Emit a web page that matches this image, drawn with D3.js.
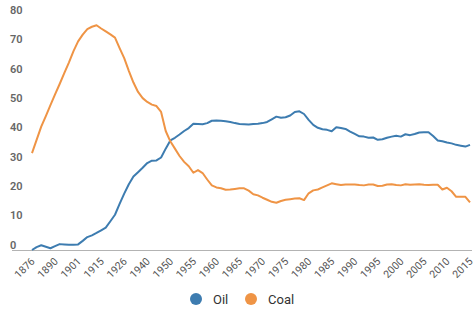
<!DOCTYPE html>
<html>
<head>
<meta charset="utf-8">
<script src="https://cdn.jsdelivr.net/npm/d3@7"></script>
<style>
  body { margin: 0; background: #fff; }
  svg { font-family: Roboto, "Noto Sans", sans-serif; }
</style>
</head>
<body>
<div id="chart"></div>
<script>
// categories (uneven before 1950, yearly after)
const years = [
  1876, 1879, 1882, 1885, 1888, 1890, 1892, 1895, 1897, 1899,
  1901, 1904, 1907, 1909, 1912, 1915, 1917, 1919, 1921, 1923,
  1926, 1929, 1932, 1934, 1937, 1940, 1942, 1944, 1946, 1948,
  1950, 1951, 1952, 1953, 1954, 1955, 1956, 1957, 1958, 1959,
  1960, 1961, 1962, 1963, 1964, 1965, 1966, 1967, 1968, 1969,
  1970, 1971, 1972, 1973, 1974, 1975, 1976, 1977, 1978, 1979,
  1980, 1981, 1982, 1983, 1984, 1985, 1986, 1987, 1988, 1989,
  1990, 1991, 1992, 1993, 1994, 1995, 1996, 1997, 1998, 1999,
  2000, 2001, 2002, 2003, 2004, 2005, 2006, 2007, 2008, 2009,
  2010, 2011, 2012, 2013, 2014, 2015
];

const oil = [
  0, 1, 1.6, 1.1, 0.6, 1.3, 2, 1.9, 1.8, 1.8,
  1.9, 3.1, 4.4, 5, 5.8, 6.7, 7.6, 9.8, 12, 15.7,
  19.2, 22.4, 25, 26.5, 28, 29.6, 30.4, 30.5, 31.5, 34.5,
  37.3, 38.2, 39.3, 40.5, 41.5, 43, 42.9, 42.8, 43.2, 44,
  44.1, 44, 43.8, 43.6, 43.2, 42.9, 42.8, 42.7, 42.9, 43,
  43.2, 43.6, 44.5, 45.4, 45, 45.2, 45.8, 47, 47.2, 46.3,
  44.3, 42.6, 41.6, 41.1, 40.9, 40.4, 41.8, 41.5, 41.2, 40.3,
  39.5, 38.7, 38.6, 38.2, 38.3, 37.5, 37.7, 38.2, 38.6, 38.9,
  38.6, 39.4, 39.1, 39.5, 40, 40.1, 40.1, 38.8, 37.3, 37,
  36.6, 36.3, 35.8, 35.5, 35.2, 35.8
];

const coal = [
  33, 37.5, 42, 45.6, 49.3, 53, 56.5, 60.2, 63.8, 67.7,
  71, 73.3, 75.2, 76, 76.5, 75.4, 74.4, 73.4, 72.3, 68.7,
  65.3, 61, 57, 53.8, 51.7, 50.4, 49.5, 49, 47, 40.5,
  37, 34.5, 32, 30, 28.5, 26.3, 27.2, 26.2, 24, 22,
  21.3, 21, 20.5, 20.6, 20.8, 21, 21, 20.2, 19, 18.6,
  17.8, 17.1, 16.4, 16.1, 16.7, 17.1, 17.3, 17.5, 17.6, 17,
  19.3, 20.3, 20.6, 21.3, 22, 22.7, 22.4, 22.1, 22.3, 22.3,
  22.3, 22.1, 22, 22.3, 22.3, 21.8, 21.9, 22.3, 22.4, 22.1,
  22, 22.4, 22.2, 22.3, 22.4, 22.2, 22.1, 22.2, 22.2, 20.6,
  21.2, 20, 18.1, 18.1, 18.1, 16.2
];

const yTicks = [0, 10, 20, 30, 40, 50, 60, 70, 80];
const xTickLabels = years.filter((d, i) => i % 5 === 0);

const series = [
  { name: 'Oil', values: oil, color: '#3d7cb0' },
  { name: 'Coal', values: coal, color: '#ef9445' }
];

const width = 475;
const height = 311;

const svg = d3.select('#chart').append('svg')
  .attr('width', width)
  .attr('height', height);

const x = d3.scalePoint().domain(years).range([32, 470]);
const y = d3.scaleLinear().domain([0, 80]).range([250, 15]);

// y labels (no axis line, no grid)
svg.append('g').attr('class', 'y-labels')
  .selectAll('text')
  .data(yTicks)
  .enter()
  .append('text')
  .attr('x', 10)
  .attr('y', d => y(d) - 5)
  .attr('dy', '0.35em')
  .attr('fill', '#666')
  .attr('font-size', 11)
  .attr('font-weight', 600)
  .text(d => d);

// x axis
svg.append('line')
  .attr('x1', 12).attr('x2', 472)
  .attr('y1', 250.5).attr('y2', 250.5)
  .attr('stroke', '#b3b3b3')
  .attr('stroke-width', 1);

svg.append('g').attr('class', 'x-labels')
  .selectAll('text')
  .data(xTickLabels)
  .enter()
  .append('text')
  .attr('transform', d => `translate(${x(d) + 3.5},262) rotate(-45)`)
  .attr('text-anchor', 'end')
  .attr('fill', '#555')
  .attr('font-size', 10.5)
  .text(d => d);

// lines
const line = d3.line()
  .x((d, i) => x(years[i]))
  .y(d => y(d));

svg.append('g').attr('class', 'lines')
  .selectAll('path')
  .data(series)
  .enter()
  .append('path')
  .attr('d', d => line(d.values))
  .attr('fill', 'none')
  .attr('stroke', d => d.color)
  .attr('stroke-width', 2)
  .attr('stroke-linejoin', 'round');

// legend
const legendPos = [196, 251];
const legend = svg.append('g').attr('class', 'legend')
  .selectAll('g')
  .data(series)
  .enter()
  .append('g')
  .attr('transform', (d, i) => `translate(${legendPos[i]},299)`);

legend.append('circle')
  .attr('r', 6)
  .attr('fill', d => d.color);

legend.append('text')
  .attr('x', 17)
  .attr('dy', '0.35em')
  .attr('fill', '#333')
  .attr('font-size', 13)
  .text(d => d.name);
</script>
</body>
</html>
